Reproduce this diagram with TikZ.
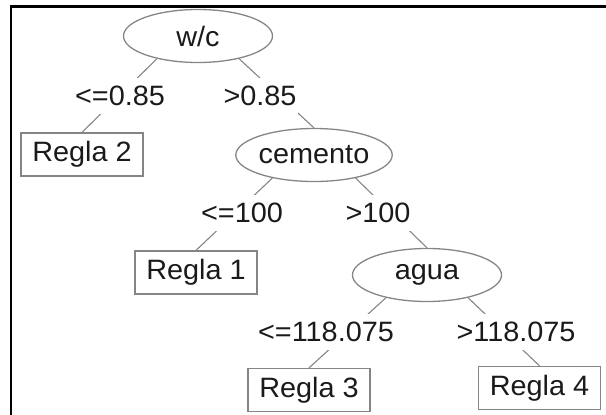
\documentclass[tikz,border=0pt]{standalone}
\usepackage{fontspec}
\setmainfont{Liberation Sans}[FakeStretch=1.03]
\usetikzlibrary{shapes.geometric}
\definecolor{edgegray}{HTML}{858585}
\definecolor{txt}{HTML}{1A1A1A}
\tikzset{
  every node/.style={font=\fontsize{28}{32}\selectfont, text=txt},
  inner/.style={ellipse, draw=edgegray, line width=1.3pt, minimum width=149pt, minimum height=53pt, inner sep=0pt},
  leaf/.style={rectangle, draw=edgegray, line width=1.3pt, minimum width=122pt, minimum height=43pt, inner sep=0pt},
  lbl/.style={fill=white, inner xsep=2pt, inner ysep=8pt},
  edge/.style={draw=edgegray, line width=1.1pt},
  frame/.style={draw=black, line width=2.5pt}
}
\begin{document}
\begin{tikzpicture}[x=1pt,y=-1pt]
\useasboundingbox (0,0) rectangle (606,415);
\coordinate (fa) at (11,415);
\coordinate (fb) at (11,6.5);
\coordinate (fc) at (606,6.5);
\draw[frame] (fa) -- (fb) -- (fc);

\node[inner] (wc) at (198,36) {w/c};
\node[inner] (cem) at (314,155) {cemento};
\node[inner] (agua) at (427,275) {agua};
\node[leaf] (r2) at (82,154.5) {Regla 2};
\node[leaf] (r1) at (196,272.5) {Regla 1};
\node[leaf] (r3) at (309,390) {Regla 3};
\node[leaf] (r4) at (539.5,388) {Regla 4};

\draw[edge] (wc.209) -- (r2.north);
\draw[edge] (wc.331) -- (cem.north);
\draw[edge] (cem.209) -- (r1.north);
\draw[edge] (cem.331) -- (agua.north);
\draw[edge] (agua.209) -- (r3.north);
\draw[edge] (agua.331) -- (r4.north);

\node[lbl] (l1) at (120,96) {<=0.85};
\node[lbl] (l2) at (260,96) {>0.85};
\node[lbl] (l3) at (242,213) {<=100};
\node[lbl] (l4) at (378,213) {>100};
\node[lbl] (l5) at (326,332) {<=118.075};
\node[lbl] (l6) at (516,332) {>118.075};
\end{tikzpicture}
\end{document}
